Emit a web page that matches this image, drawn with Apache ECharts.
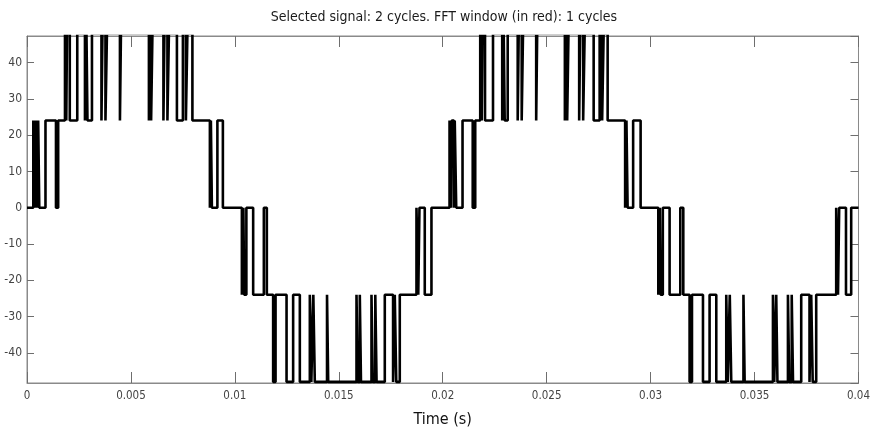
<!DOCTYPE html>
<html>
<head>
<meta charset="utf-8">
<script src="https://cdn.jsdelivr.net/npm/echarts@6/dist/echarts.min.js"></script>
<style>
  html, body { margin: 0; padding: 0; background: #fff; }
  #chart { width: 873px; height: 433px; }
</style>
</head>
<body>
<div id="chart"></div>
<script>
// Inverter output voltage, two fundamental cycles (50 Hz).
// Each entry is [switching instant (s), level (V) held from that instant].
const posHalf1 = [
  [0, 0], [0.000303, 24], [0.000385, 0], [0.000423, 24], [0.000510, 0], [0.000538, 24], [0.000591, 0],
  [0.000889, 24], [0.001394, 0], [0.001500, 24], [0.001827, 48], [0.001889, 24], [0.001923, 48],
  [0.002058, 24], [0.002418, 48], [0.002788, 24], [0.002861, 48], [0.002909, 24], [0.003125, 48],
  [0.003582, 24], [0.003630, 48], [0.003774, 24], [0.003846, 48], [0.004471, 24], [0.004519, 48],
  [0.005865, 24], [0.005928, 48], [0.005971, 24], [0.006034, 48], [0.006563, 24], [0.006611, 48],
  [0.006755, 24], [0.006827, 48], [0.007212, 24], [0.007500, 48], [0.007644, 24], [0.007716, 48],
  [0.007957, 24], [0.008798, 0], [0.008846, 24], [0.008894, 0], [0.009159, 24], [0.009423, 0]
];
const negHalf1 = [
  [0.010337, -24], [0.010409, 0], [0.010447, -24], [0.010553, 0], [0.010880, -24], [0.011394, 0],
  [0.011538, -24], [0.011841, -48], [0.011957, -24], [0.012486, -48], [0.012803, -24], [0.013125, -48],
  [0.013606, -24], [0.013678, -48], [0.013774, -24], [0.013846, -48], [0.014433, -24], [0.014490, -48],
  [0.015851, -24], [0.015913, -48], [0.016010, -24], [0.016067, -48], [0.016572, -24], [0.016635, -48],
  [0.016755, -24], [0.016817, -48], [0.017212, -24], [0.017611, -48], [0.017692, -24], [0.017764, -48],
  [0.017933, -24], [0.018736, 0], [0.018822, -24], [0.018880, 0], [0.019135, -24], [0.019457, 0]
];
const posHalf2 = [
  [0.020327, 24], [0.020394, 0], [0.020433, 24], [0.020538, 0], [0.020577, 24], [0.020649, 0],
  [0.020952, 24], [0.021442, 0], [0.021563, 24], [0.021803, 48], [0.021875, 24], [0.021913, 48],
  [0.022034, 24], [0.022418, 48], [0.022861, 24], [0.022933, 48], [0.022981, 24], [0.023125, 48],
  [0.023606, 24], [0.023654, 48], [0.023798, 24], [0.023861, 48], [0.024495, 24], [0.024543, 48],
  [0.025875, 24], [0.025938, 48], [0.025986, 24], [0.026048, 48], [0.026563, 24], [0.026611, 48],
  [0.026755, 24], [0.026827, 48], [0.027260, 24], [0.027548, 48], [0.027668, 24], [0.027740, 48],
  [0.027933, 24], [0.028774, 0], [0.028837, 24], [0.028894, 0], [0.029159, 24], [0.029519, 0]
];
const negHalf2 = [
  [0.030370, -24], [0.030442, 0], [0.030481, -24], [0.030587, 0], [0.030913, -24], [0.031428, 0],
  [0.031572, -24], [0.031875, -48], [0.031990, -24], [0.032519, -48], [0.032837, -24], [0.033159, -48],
  [0.033639, -24], [0.033712, -48], [0.033808, -24], [0.033880, -48], [0.034466, -24], [0.034524, -48],
  [0.035885, -24], [0.035947, -48], [0.036043, -24], [0.036101, -48], [0.036606, -24], [0.036668, -48],
  [0.036788, -24], [0.036851, -48], [0.037245, -24], [0.037644, -48], [0.037726, -24], [0.037798, -48],
  [0.037966, -24], [0.038928, 0], [0.039014, -24], [0.039072, 0], [0.039399, -24], [0.039649, 0],
  [0.04, 0]
];

const titleText = 'Selected signal: 2 cycles. FFT window (in red): 1 cycles';
const xAxisTitle = 'Time (s)';
const timeRange = [0, 0.04];
const timeStep = 0.005;
const voltRange = [-48.3, 47.3];

const signal = [].concat(posHalf1, negHalf1, posHalf2, negHalf2);

const narrow = "'Liberation Sans Narrow', 'DejaVu Sans Condensed', 'Liberation Sans', sans-serif";
const frameColor = '#8a8a8a';
const tickColor = '#6e6e6e';

const chart = echarts.init(document.getElementById('chart'), null, { renderer: 'canvas' });

const xBase = {
  type: 'value',
  min: timeRange[0],
  max: timeRange[1],
  interval: timeStep,
  splitLine: { show: false },
  axisLine: { show: true, onZero: false, lineStyle: { color: frameColor, width: 1 } }
};
const yBase = {
  type: 'value',
  min: voltRange[0],
  max: voltRange[1],
  splitNumber: 10,
  splitLine: { show: false },
  axisLine: { show: true, onZero: false, lineStyle: { color: frameColor, width: 1 } }
};

chart.setOption({
  animation: false,
  backgroundColor: '#ffffff',
  grid: {
    left: 27, right: 12, top: 36, bottom: 50,
    show: true, borderColor: frameColor, borderWidth: 1, backgroundColor: '#ffffff'
  },
  graphic: [{
    type: 'text',
    x: 444, y: 17,
    style: {
      text: titleText, align: 'center', verticalAlign: 'middle',
      fontFamily: narrow, fontSize: 14, fill: '#1a1a1a'
    }
  }],
  xAxis: [
    Object.assign({}, xBase, {
      position: 'bottom',
      name: xAxisTitle, nameLocation: 'middle', nameGap: 29,
      nameTextStyle: { fontFamily: narrow, fontSize: 16, color: '#111' },
      axisTick: { show: true, inside: true, length: 11, lineStyle: { color: tickColor, width: 1 } },
      axisLabel: {
        fontFamily: narrow, fontSize: 11.5, color: '#444', margin: 7,
        formatter: v => String(+v.toFixed(3))
      }
    }),
    Object.assign({}, xBase, {
      position: 'top',
      axisTick: { show: true, inside: true, length: 11, lineStyle: { color: tickColor, width: 1 } },
      axisLabel: { show: false }
    })
  ],
  yAxis: [
    Object.assign({}, yBase, {
      position: 'left',
      axisTick: { inside: true, length: 7, lineStyle: { color: tickColor } },
      axisLabel: {
        fontFamily: narrow, fontSize: 12, color: '#444', margin: 5,
        showMinLabel: false, showMaxLabel: false
      }
    }),
    Object.assign({}, yBase, {
      position: 'right',
      axisTick: { inside: true, length: 8, lineStyle: { color: tickColor } },
      axisLabel: { show: false }
    })
  ],
  series: [{
    type: 'line',
    data: signal,
    step: 'end',
    showSymbol: false,
    clip: true,
    lineStyle: { color: '#000', width: 2.6 },
    xAxisIndex: 0,
    yAxisIndex: 0
  }]
});
</script>
</body>
</html>
